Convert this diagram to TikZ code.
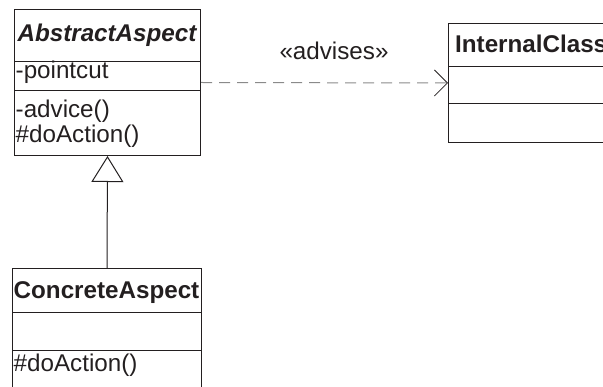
\documentclass[tikz,border=0pt]{standalone}
\usepackage{fontspec}
\setmainfont{Liberation Sans}
\usetikzlibrary{arrows.meta}
\definecolor{ink}{HTML}{231F20}
\definecolor{dash}{HTML}{8A8A8A}
\tikzset{
  umlbox/.style={draw=ink, line width=1pt, anchor=north west, inner sep=0pt},
  sep/.style={draw=ink, line width=1pt},
  txt/.style={inner sep=0pt, anchor=base west, text=ink, font=\fontsize{24.2}{29}\selectfont},
  ttl/.style={inner sep=0pt, anchor=base, text=ink, font=\fontsize{24.2}{29}\selectfont\bfseries},
  dep/.style={draw=dash, line width=1pt, dash pattern=on 11pt off 7pt,
    -{Straight Barb[length=13pt, width=26pt, line width=0.8pt, color=ink]}},
  gen/.style={draw=ink, line width=1pt,
    -{Triangle[open, length=26pt, width=32pt, line width=1pt, fill=white]}}
}
\begin{document}
\begin{tikzpicture}[x=1pt, y=-1pt]
\useasboundingbox (0,0) rectangle (603,387);
\clip (0,0) rectangle (603,387);
% AbstractAspect
\node[umlbox, minimum width=186pt, minimum height=146pt] (aa) at (14,9) {};
\draw[sep] (14,62) -- (200,62);
\draw[sep] (14,91) -- (200,91);
\node[ttl, font=\fontsize{24.2}{29}\selectfont\bfseries\itshape] (aat) at (107,42) {AbstractAspect};
\node[txt] (aa1) at (15.5,79) {-pointcut};
\node[txt] (aa2) at (15.5,118) {-advice()};
\node[txt] (aa3) at (15.5,143) {\#doAction()};
% InternalClass
\node[umlbox, minimum width=200pt, minimum height=119pt] (ic) at (448,23) {};
\draw[sep] (448,67) -- (648,67);
\draw[sep] (448,104) -- (648,104);
\node[txt, font=\fontsize{24.2}{29}\selectfont\bfseries] (ict) at (455,53) {InternalClass};
% ConcreteAspect
\node[umlbox, minimum width=189pt, minimum height=140pt] (ca) at (12,268) {};
\draw[sep] (12,313) -- (201,313);
\draw[sep] (12,351) -- (201,351);
\node[ttl] (cat) at (106.5,299) {ConcreteAspect};
\node[txt] (ca1) at (13.5,372) {\#doAction()};
% connectors
\draw[dep] (aa.east) -- (ic.west);
\node[inner sep=0pt, anchor=base, text=ink, font=\fontsize{24.2}{29}\selectfont] (adv) at (334,60) {«advises»};
\draw[gen] (ca.north) -- (aa.south);
\end{tikzpicture}
\end{document}
